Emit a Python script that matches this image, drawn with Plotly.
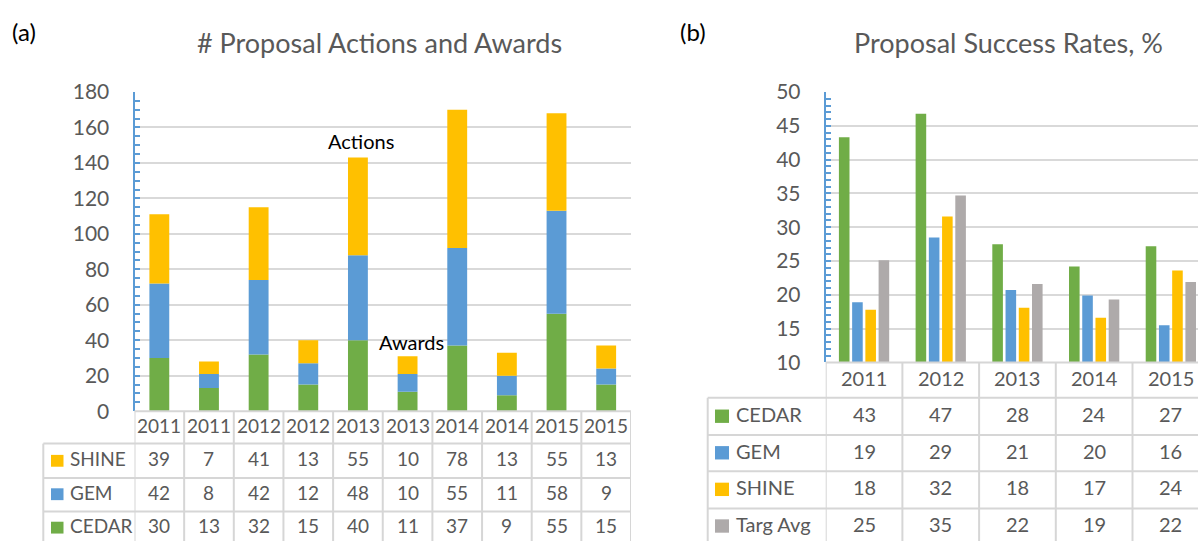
import plotly.graph_objects as go

# ---------------- data ----------------
years_a = ['2011', '2011', '2012', '2012', '2013', '2013', '2014', '2014', '2015', '2015']
shine_a = [39, 7, 41, 13, 55, 10, 78, 13, 55, 13]
gem_a = [42, 8, 42, 12, 48, 10, 55, 11, 58, 9]
cedar_a = [30, 13, 32, 15, 40, 11, 37, 9, 55, 15]

years_b = ['2011', '2012', '2013', '2014', '2015']
cedar_b = [43.3, 46.8, 27.5, 24.2, 27.2]
gem_b = [18.9, 28.5, 20.7, 19.9, 15.5]
shine_b = [17.8, 31.6, 18.1, 16.6, 23.6]
targ_b = [25.1, 34.7, 21.6, 19.3, 21.9]
# values printed in the data table of panel (b)
cedar_b_tbl = [43, 47, 28, 24, 27]
gem_b_tbl = [19, 29, 21, 20, 16]
shine_b_tbl = [18, 32, 18, 17, 24]
targ_b_tbl = [25, 35, 22, 19, 22]

# ---------------- style ----------------
W, H = 1198, 552
GREEN, BLUE, GOLD, GRAY = '#70AD47', '#5B9BD5', '#FFC000', '#AEAAAA'
TXT = '#595959'
GRID = '#D9D9D9'
TBL = '#D6D6D6'
FONT = 'Lato'


def px(x):
    return x / W


def py(y):
    return 1 - y / H


fig = go.Figure()

# ---- panel (a): stacked bars built with bases ----
idx_a = list(range(len(years_a)))
base_gem = [c for c in cedar_a]
base_shine = [c + g for c, g in zip(cedar_a, gem_a)]
for name, vals, base, col in [('CEDAR', cedar_a, None, GREEN),
                              ('GEM', gem_a, base_gem, BLUE),
                              ('SHINE', shine_a, base_shine, GOLD)]:
    fig.add_trace(go.Bar(x=idx_a, y=vals, base=base, name=name, marker_color=col,
                         marker_line_width=0, width=0.4, offset=-0.2,
                         offsetgroup='a', xaxis='x', yaxis='y', showlegend=False))

# ---- panel (b): grouped bars ----
idx_b = list(range(len(years_b)))
for name, vals, col in [('CEDAR', cedar_b, GREEN), ('GEM', gem_b, BLUE),
                        ('SHINE', shine_b, GOLD), ('Targ Avg', targ_b, GRAY)]:
    fig.add_trace(go.Bar(x=idx_b, y=vals, name=name, marker_color=col,
                         marker_line_width=0, offsetgroup=name,
                         xaxis='x2', yaxis='y2', showlegend=False))

# axes geometry (pixels)
A_L, A_R, A_T, A_B = 134.5, 631, 81.7, 416
B_L, B_T, B_B = 825.7, 81.7, 365
B_CAT = 76.7
b_right_cats = (W - B_L) / B_CAT - 0.5

yax_common = dict(showline=True, linecolor=BLUE, linewidth=2, ticks='inside', ticklen=5,
                  tickcolor=BLUE, tickwidth=1.5, showgrid=True, gridcolor=GRID, gridwidth=1.5,
                  zeroline=False, tickfont=dict(family=FONT, size=21, color=TXT),
                  ticklabelstandoff=19, fixedrange=True)

fig.update_layout(
    width=W, height=H, margin=dict(l=0, r=0, t=0, b=0),
    paper_bgcolor='white', plot_bgcolor='white',
    barmode='group', bargap=0.31, bargroupgap=0.2,
    font=dict(family=FONT, color=TXT),
    xaxis=dict(domain=[px(A_L), px(A_R)], range=[-0.5, len(years_a) - 0.5], fixedrange=True,
               showticklabels=False, showgrid=False, zeroline=False, showline=False, ticks=''),
    yaxis=dict(domain=[py(A_B), py(A_T)], range=[0, 180], dtick=20,
               minor=dict(dtick=5, ticks='inside', ticklen=5, tickcolor=BLUE, showgrid=False),
               **yax_common),
    xaxis2=dict(domain=[px(B_L), 1.0], range=[-0.5, b_right_cats], anchor='y2', fixedrange=True,
                showticklabels=False, showgrid=False, zeroline=False, showline=False, ticks=''),
    yaxis2=dict(domain=[py(B_B), py(B_T)], range=[10, 50], dtick=5, anchor='x2',
                minor=dict(dtick=1, ticks='inside', ticklen=5, tickcolor=BLUE, showgrid=False),
                **yax_common),
)

shapes = []
ann = []


def hline(x0, x1, y, xref='paper'):
    shapes.append(dict(type='line', xref=xref, yref='paper', x0=x0, x1=x1, y0=py(y), y1=py(y),
                       line=dict(color=TBL, width=2)))


def vline(x, y0, y1, xref='paper'):
    shapes.append(dict(type='line', xref=xref, yref='paper', x0=x, x1=x, y0=py(y0), y1=py(y1),
                       line=dict(color=TBL, width=2)))


def text(x, ypix, s, size, xref='paper', xanchor='center', color=TXT):
    # small upward correction so the glyphs' visual centre sits on ypix
    ann.append(dict(x=x, y=py(ypix - 0.11 * size), xref=xref, yref='paper', text=s,
                    showarrow=False, xanchor=xanchor, yanchor='middle',
                    font=dict(family=FONT, size=size, color=color)))


# ---- table (a) ----
A_LAB = 43.3
rows_a = [450, 486, 521]
hline(px(A_L), px(A_R), A_B)
for r in rows_a:
    hline(px(A_LAB), px(A_R), r)
vline(px(A_LAB), 450, H)
for k in range(len(years_a) + 1):
    vline(k - 0.5, A_B, H, xref='x')
for i, yr in enumerate(years_a):
    text(i, 433.5, yr, 19, xref='x')
tbl_a = [('SHINE', shine_a, GOLD, 468), ('GEM', gem_a, BLUE, 503), ('CEDAR', cedar_a, GREEN, 538)]
for name, vals, col, yc in tbl_a:
    shapes.append(dict(type='rect', xref='paper', yref='paper', x0=px(51), x1=px(63.5),
                       y0=py(yc + 6.2), y1=py(yc - 6.2), fillcolor=col, line=dict(width=0)))
    text(px(67.5), yc, name, 19, xanchor='left')
    for i, v in enumerate(vals):
        text(i, yc, str(v), 19, xref='x')

# ---- table (b) ----
B_LAB = 707.7
rows_b = [402, 441, 479, 518]
hline(px(B_L), 1.0, B_B)
for r in rows_b:
    hline(px(B_LAB), 1.0, r)
vline(px(B_LAB), 402, H)
for k in range(len(years_b) + 1):
    vline(k - 0.5, B_B, H, xref='x2')
for i, yr in enumerate(years_b):
    text(i, 383.5, yr, 20, xref='x2')
tbl_b = [('CEDAR', cedar_b_tbl, GREEN, 421.3), ('GEM', gem_b_tbl, BLUE, 459.6),
         ('SHINE', shine_b_tbl, GOLD, 497.9), ('Targ Avg', targ_b_tbl, GRAY, 536.3)]
for name, vals, col, yc in tbl_b:
    shapes.append(dict(type='rect', xref='paper', yref='paper', x0=px(715), x1=px(729),
                       y0=py(yc + 7), y1=py(yc - 7), fillcolor=col, line=dict(width=0)))
    text(px(734.3), yc, name, 20, xanchor='left')
    for i, v in enumerate(vals):
        text(i, yc, str(v), 20, xref='x2')

# ---- titles and labels ----
text(px(379.5), 32.5, '# Proposal Actions and Awards', 27)
text(px(1008.7), 32.5, 'Proposal Success Rates, %', 27)
text(px(10), 21, '(a)', 24, xanchor='left', color='black')
text(px(678), 21, '(b)', 24, xanchor='left', color='black')

# in-plot annotations
ann.append(dict(x=4, y=shine_a[4] + gem_a[4] + cedar_a[4], xref='x', yref='y', text='Actions',
                showarrow=False, xanchor='center', yanchor='bottom', xshift=3, yshift=3,
                font=dict(family=FONT, size=20, color='black')))
ann.append(dict(x=5, y=shine_a[5] + gem_a[5] + cedar_a[5], xref='x', yref='y', text='Awards',
                showarrow=False, xanchor='center', yanchor='bottom', xshift=4, yshift=0,
                font=dict(family=FONT, size=20, color='black')))

fig.update_layout(shapes=shapes, annotations=ann)
fig.write_html('out.html', config={'displayModeBar': False},
               post_script="document.body.style.margin='0';")
